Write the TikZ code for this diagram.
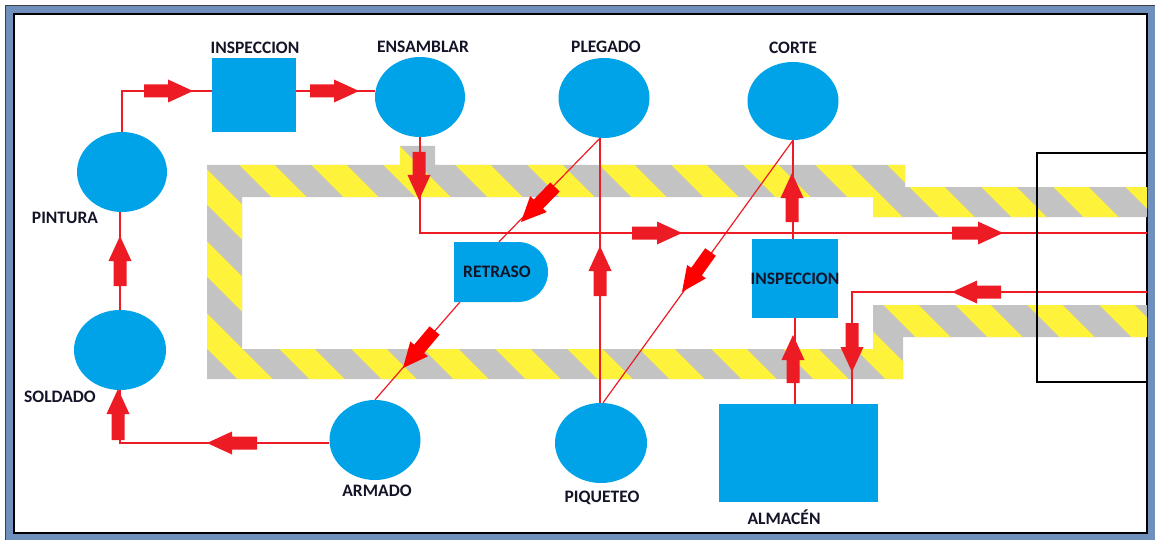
\documentclass[tikz,border=0pt]{standalone}
\usepackage{fontspec}
\setmainfont{Carlito}
\usetikzlibrary{shapes.geometric,shapes.misc,calc}

\definecolor{procblue}{HTML}{00A2E8}
\definecolor{flowred}{HTML}{ED1C24}
\definecolor{hotred}{HTML}{FF0000}
\definecolor{bandgray}{HTML}{C3C3C3}
\definecolor{bandyellow}{HTML}{FFF23A}
\definecolor{framefill}{HTML}{6F8FBD}
\definecolor{labelink}{HTML}{141428}

\pgfdeclarelayer{paper}
\pgfdeclarelayer{band}
\pgfdeclarelayer{wires}
\pgfsetlayers{paper,band,wires,main}

% hatched aisle around the plant floor
\def\bandpath{(207,165) -- (400,165) -- (400,146) -- (435,146) -- (435,165)
  -- (905,165) -- (905,187) -- (1147,187) -- (1147,217) -- (873,217)
  -- (873,197) -- (242,197) -- (242,349) -- (873,349) -- (873,305)
  -- (1147,305) -- (1147,337) -- (903,337) -- (903,379) -- (207,379) -- cycle}

% block arrow: [colour]{tail}{tip}
\newcommand\fatarrow[3][flowred]{%
  \coordinate (fa-t) at (#2);
  \coordinate (fa-p) at (#3);
  \coordinate (fa-n) at ($(fa-p)!25pt!(fa-t)$);
  \fill[#1]
    ($(fa-t)!6.5pt!90:(fa-n)$) -- ($(fa-n)!6.5pt!-90:(fa-t)$)
    -- ($(fa-n)!11.5pt!-90:(fa-t)$) -- (fa-p)
    -- ($(fa-n)!11.5pt!90:(fa-t)$) -- ($(fa-n)!6.5pt!90:(fa-t)$)
    -- ($(fa-t)!6.5pt!-90:(fa-n)$) -- cycle;
}

\tikzset{
  station/.style={ellipse, fill=procblue, inner sep=0pt,
    minimum width=91pt, minimum height=80pt},
  boxstation/.style={rectangle, fill=procblue, inner sep=0pt},
  tag/.style={font=\fontsize{17.5}{20}\selectfont\bfseries, text=labelink,
    inner sep=0pt, text height=11.3pt, text depth=0pt},
  wire/.style={draw=flowred, line width=1.8pt},
  thinwire/.style={draw=flowred, line width=1.2pt},
}

\begin{document}
\begin{tikzpicture}[x=1pt,y=-1pt]
\useasboundingbox (0,0) rectangle (1155,540);

% frame
\begin{pgfonlayer}{paper}
  \fill[framefill] (5,5) rectangle (1155,540);
  \draw[black!75, line width=0.8pt] (5,540) -- (5,5) -- (1155,5);
  \fill[white] (14,14) rectangle (1147,533);
  \draw[black, line width=1.2pt] (14,14) rectangle (1147,533);
\end{pgfonlayer}

% aisle
\begin{pgfonlayer}{band}
  \fill[bandgray] \bandpath;
  \begin{scope}
    \clip \bandpath;
    \foreach \c in {-196,-124,...,1100}
      \draw[bandyellow, line width=25pt] (\c+100,100) -- (\c+420,420);
  \end{scope}
\end{pgfonlayer}

% exit area
\draw[black, line width=1.2pt] (1147,153) -- (1037,153) -- (1037,382) -- (1147,382);

% stations
\node[station, minimum width=90pt] (pint) at (122,172) {};
\node[station, minimum width=92pt] (sold) at (120,350) {};
\node[station] (arm) at (375,440) {};
\node[station, minimum width=92pt] (piq) at (601,443) {};
\node[station, minimum width=90pt] (ens) at (420,97) {};
\node[station] (pleg) at (604,98) {};
\node[station, minimum height=78pt] (corte) at (793,101) {};
\node[boxstation, minimum width=84pt, minimum height=74pt] (insp1) at (254,95) {};
\node[boxstation, minimum width=86pt, minimum height=79pt] (insp2) at (795,278.5) {};
\node[boxstation, minimum width=159pt, minimum height=98pt] (alm) at (798.5,453) {};
\node[rounded rectangle, rounded rectangle left arc=none, fill=procblue,
  minimum width=94pt, minimum height=60pt, inner sep=0pt] (ret) at (501,272) {};

% names
\node[tag] (insp1-t) at (255,48) {INSPECCION};
\node[tag] (ens-t) at (423,47) {ENSAMBLAR};
\node[tag] (pleg-t) at (606,47) {PLEGADO};
\node[tag] (corte-t) at (793,48) {CORTE};
\node[tag] (pint-t) at (65,218) {PINTURA};
\node[tag] (sold-t) at (60,397) {SOLDADO};
\node[tag] (arm-t) at (377,491) {ARMADO};
\node[tag] (piq-t) at (602,497) {PIQUETEO};
\node[tag] (alm-t) at (784,519) {ALMACÉN};
\node[tag] (ret-t) at (497,272) {RETRASO};
\node[tag] (insp2-t) at (795,279) {INSPECCION};

% flow lines
\coordinate (exitR) at (1147,233);
\coordinate (entR) at (1147,292);
\begin{pgfonlayer}{wires}
  \draw[wire] (pint.north) |- ([yshift=4pt]insp1.west);
  \draw[wire] ([yshift=4pt]insp1.east) -- ([yshift=4pt]insp1.east -| ens.west);
  \draw[wire] (ens.south) |- (exitR);
  \draw[wire] ([xshift=-4pt]pleg.south) -- ([xshift=-4pt]pleg.south |- piq.north);
  \draw[thinwire] ([xshift=-4pt]pleg.south) -- ([xshift=-2pt]ret.north);
  \draw[thinwire] ([xshift=6pt]ret.south west) -- (arm.north);
  \draw[wire] (corte.south) -- (corte.south |- insp2.north);
  \draw[thinwire] (corte.south) -- ([xshift=2pt]piq.north);
  \draw[wire] (insp2.south) -- (insp2.south |- alm.north);
  \draw[wire] (entR) -| ([xshift=53.5pt]alm.north);
  \draw[wire] ([yshift=-3pt]arm.west) -| (sold.south);
  \draw[wire] (sold.north) -- (sold.north |- pint.south);
\end{pgfonlayer}

% direction arrows
\fatarrow{144,91}{193,91}
\fatarrow{310,91}{359,91}
\fatarrow{419,152}{419,200}
\fatarrow{632,233}{682,233}
\fatarrow{952,233}{1003,233}
\fatarrow[hotred]{555,187}{521,222}
\fatarrow{600,296}{600,246}
\fatarrow[hotred]{710.5,252}{682,292}
\fatarrow{792,222}{792,173}
\fatarrow[hotred]{434.6,330.5}{403,368}
\fatarrow{793,383}{793,335}
\fatarrow{1001,292}{952,292}
\fatarrow{852,323}{852,372}
\fatarrow{257,443}{207,443}
\fatarrow{118,440}{118,389}
\fatarrow{120,286}{120,236}
\end{tikzpicture}
\end{document}
